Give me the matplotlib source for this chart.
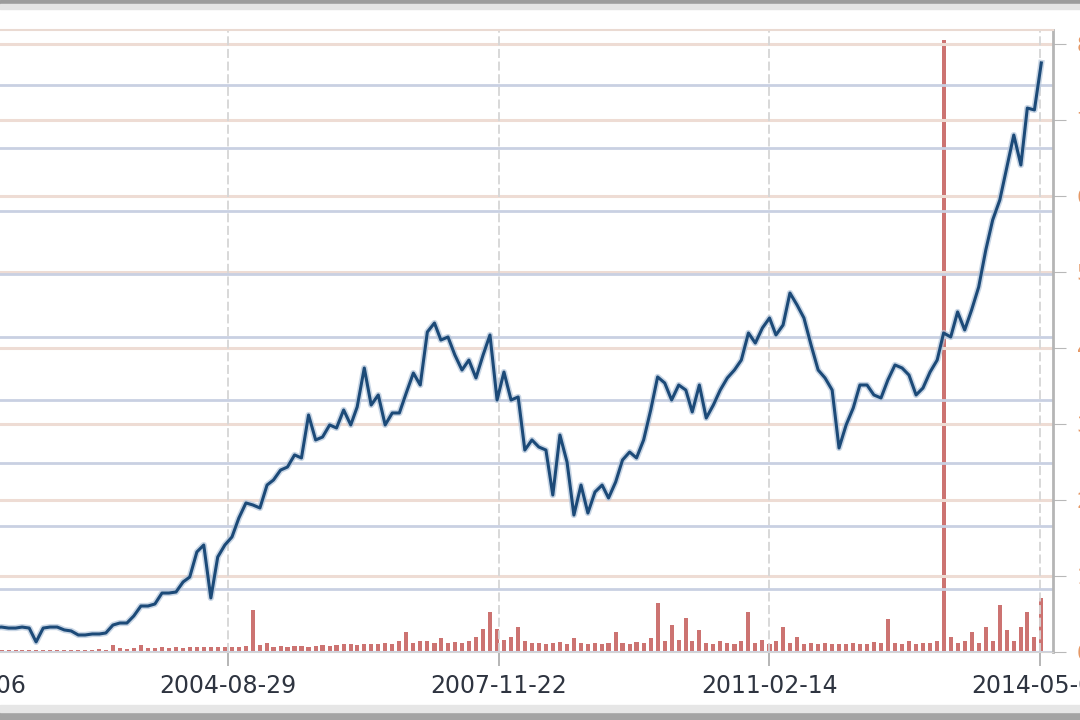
import numpy as np
import pandas as pd
import matplotlib
matplotlib.use("Agg")
from matplotlib import pyplot as plt
import matplotlib.dates as mdates
from matplotlib.patches import Rectangle

# monthly closing price, Mar 2001 .. May 2014
price_2001 = [2.10, 2.06, 2.02, 2.10, 1.98, 1.94, 2.02, 1.98, 1.94, 1.98]
price_2002 = [1.90, 1.90, 1.98, 1.90, 0.80, 1.90, 1.98, 1.98, 1.75, 1.67, 1.35, 1.35]
price_2003 = [1.43, 1.43, 1.51, 2.14, 2.30, 2.30, 2.86, 3.65, 3.65, 3.81, 4.68, 4.68]
price_2004 = [4.76, 5.56, 5.95, 7.94, 8.49, 4.29, 7.54, 8.49, 9.13, 10.63, 11.83, 11.67]
price_2005 = [11.43, 13.25, 13.65, 14.44, 14.68, 15.64, 15.40, 18.81, 16.83, 17.06, 18.02, 17.78]
price_2006 = [19.21, 18.02, 19.45, 22.54, 19.60, 20.40, 18.02, 18.97, 18.97, 20.56, 22.14, 21.19]
price_2007 = [25.40, 26.11, 24.76, 25.00, 23.57, 22.38, 23.17, 21.75, 23.57, 25.16, 20.00, 22.22]
price_2008 = [20.00, 20.24, 16.03, 16.83, 16.27, 16.03, 12.46, 17.22, 15.08, 10.87, 13.25, 11.03]
price_2009 = [12.70, 13.25, 12.22, 13.49, 15.24, 15.87, 15.40, 16.83, 19.21, 21.83, 21.35, 20.00]
price_2010 = [21.19, 20.79, 19.05, 21.19, 18.57, 19.60, 20.79, 21.75, 22.38, 23.17, 25.32, 24.52]
price_2011 = [25.72, 26.51, 25.16, 25.95, 28.49, 27.54, 26.51, 24.37, 22.38, 21.75, 20.79, 16.19]
price_2012 = [18.02, 19.37, 21.19, 21.19, 20.40, 20.16, 21.59, 22.78, 22.54, 21.98, 20.40, 20.95]
price_2013 = [22.22, 23.17, 25.32, 25.00, 26.99, 25.56, 27.14, 28.97, 31.91, 34.29, 35.87, 38.41]
price_2014 = [41.03, 38.65, 43.17, 43.02, 46.75]

# monthly volume (millions)
vol_2001 = [0.02, 0.02, 0.03, 0.02, 0.02, 0.03, 0.02, 0.02, 0.03, 0.02]
vol_2002 = [0.03, 0.02, 0.03, 0.02, 0.03, 0.03, 0.02, 0.03, 0.03, 0.02, 0.03, 0.03]
vol_2003 = [0.03, 0.04, 0.03, 0.09, 0.05, 0.04, 0.05, 0.09, 0.05, 0.05, 0.06, 0.05]
vol_2004 = [0.06, 0.05, 0.06, 0.06, 0.07, 0.06, 0.06, 0.07, 0.06, 0.07, 0.08, 0.55]
vol_2005 = [0.09, 0.12, 0.07, 0.08, 0.07, 0.08, 0.08, 0.07, 0.08, 0.09, 0.08, 0.09]
vol_2006 = [0.10, 0.10, 0.09, 0.11, 0.10, 0.11, 0.12, 0.10, 0.14, 0.26, 0.12, 0.14]
vol_2007 = [0.15, 0.12, 0.18, 0.12, 0.13, 0.12, 0.14, 0.20, 0.30, 0.53, 0.30, 0.16]
vol_2008 = [0.20, 0.33, 0.15, 0.12, 0.12, 0.11, 0.12, 0.13, 0.11, 0.18, 0.12, 0.11]
vol_2009 = [0.12, 0.11, 0.12, 0.26, 0.12, 0.11, 0.13, 0.12, 0.18, 0.64, 0.15, 0.36]
vol_2010 = [0.16, 0.45, 0.14, 0.29, 0.12, 0.11, 0.15, 0.12, 0.11, 0.14, 0.53, 0.12]
vol_2011 = [0.16, 0.11, 0.14, 0.33, 0.12, 0.20, 0.11, 0.12, 0.10, 0.12, 0.11, 0.10]
vol_2012 = [0.11, 0.12, 0.10, 0.11, 0.13, 0.12, 0.43, 0.12, 0.11, 0.15, 0.11, 0.12]
vol_2013 = [0.12, 0.14, 8.05, 0.20, 0.12, 0.14, 0.26, 0.12, 0.33, 0.15, 0.62, 0.29]
vol_2014 = [0.15, 0.33, 0.53, 0.20, 0.71]

tick_dates = ["2001-06-06", "2004-08-29", "2007-11-22", "2011-02-14", "2014-05-09"]
price_ticks = [0, 5, 10, 15, 20, 25, 30, 35, 40, 45]
vol_ticks = [0, 1, 2, 3, 4, 5, 6, 7, 8]

price = np.concatenate([price_2001, price_2002, price_2003, price_2004, price_2005,
                        price_2006, price_2007, price_2008, price_2009, price_2010,
                        price_2011, price_2012, price_2013, price_2014])
volume = np.concatenate([vol_2001, vol_2002, vol_2003, vol_2004, vol_2005,
                         vol_2006, vol_2007, vol_2008, vol_2009, vol_2010,
                         vol_2011, vol_2012, vol_2013, vol_2014])
dates = pd.date_range("2001-03-01", periods=len(price), freq="MS") + pd.Timedelta(days=14)

fig = plt.figure(figsize=(10.8, 7.2), dpi=100)
fig.patch.set_facecolor("white")

# window frame bands (top / bottom)
fig.patches.append(Rectangle((0, 1 - 4 / 720), 1, 4 / 720, transform=fig.transFigure, color="#9c9c9c", zorder=0))
fig.patches.append(Rectangle((0, 1 - 9 / 720), 1, 5 / 720, transform=fig.transFigure, color="#e4e4e4", zorder=0))
fig.patches.append(Rectangle((0, 0), 1, 8 / 720, transform=fig.transFigure, color="#a4a4a4", zorder=0))
fig.patches.append(Rectangle((0, 8 / 720), 1, 7 / 720, transform=fig.transFigure, color="#e6e6e6", zorder=0))

ax = fig.add_axes([-60 / 1080, 68 / 720, 1113 / 1080, 622 / 720])
ax2 = ax.twinx()
ax.set_zorder(2)
ax.patch.set_visible(False)
ax2.set_zorder(1)

# volume bars
ax2.bar(dates, volume, width=18, color="#c0504d", alpha=0.8, linewidth=0)
ax2.set_ylim(0, 622 / 76)
ax2.set_yticks(vol_ticks)
ax2.yaxis.grid(True, color="#eedcd4", linewidth=2.2)
ax2.tick_params(axis="y", right=True, length=9, color="#b8b8b8", pad=8,
                labelsize=15, labelcolor="#e59866")
for s in ax2.spines.values():
    s.set_visible(False)

# price line with soft halo
ax.plot(dates, price, color="#b3c5da", linewidth=4.5, alpha=0.7)
ax.plot(dates, price, color="#1c4a78", linewidth=2.2)
ax.set_ylim(0, 622 / 63 * 5)
ax.set_yticks(price_ticks)
ax.yaxis.grid(True, color="#c9d0e2", linewidth=2.0)
ax.tick_params(axis="y", left=False, labelleft=False)

ax.set_xlim(pd.Timestamp("2001-03-22"), pd.Timestamp("2014-07-05"))
ax.set_xticks(pd.to_datetime(tick_dates))
ax.xaxis.set_major_formatter(mdates.DateFormatter("%Y-%m-%d"))
ax.xaxis.grid(True, color="#d6d6d6", linewidth=1.3, linestyle=(0, (5, 2)))
ax.tick_params(axis="x", length=10, width=1.3, color="#b0b0b0", pad=6,
               labelsize=17, labelcolor="#2e3440")

ax.spines["top"].set_color("#eadad2")
ax.spines["top"].set_linewidth(1.5)
ax.spines["bottom"].set_color("#d4d4d4")
ax.spines["right"].set_color("#b5b5b5")
ax.spines["right"].set_linewidth(2)
ax.spines["left"].set_visible(False)

fig.savefig("out.png", dpi=100)
